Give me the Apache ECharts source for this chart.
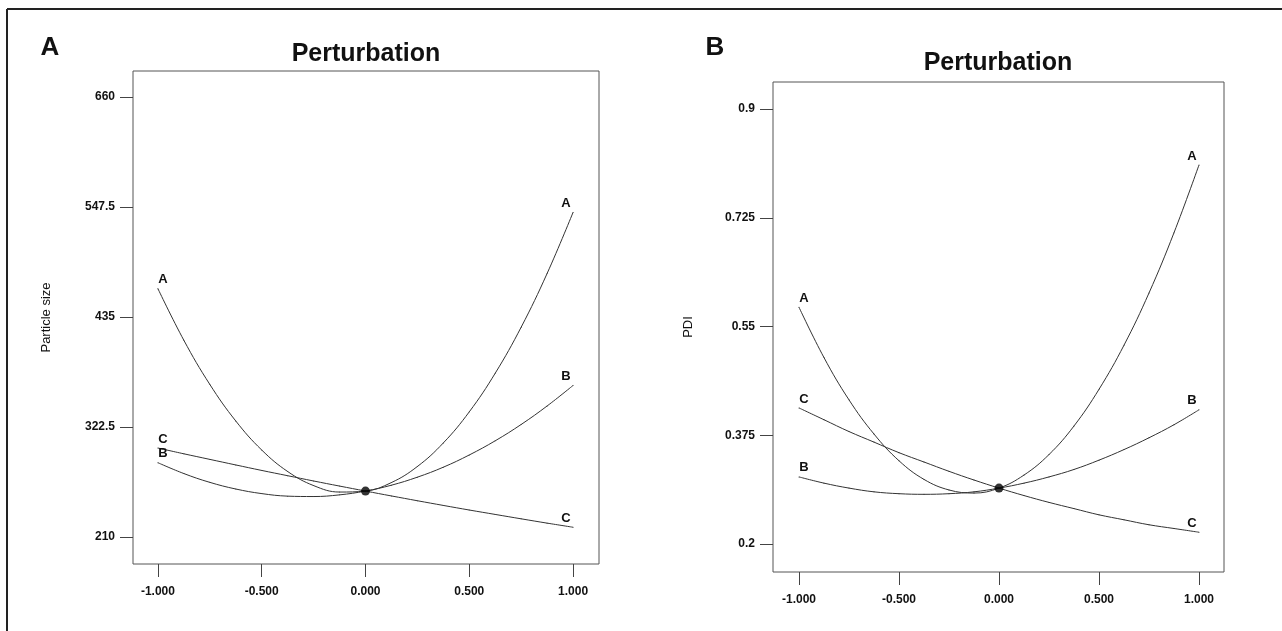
<!DOCTYPE html>
<html>
<head>
<meta charset="utf-8">
<title>Perturbation</title>
<script src="https://cdn.jsdelivr.net/npm/echarts@6/dist/echarts.min.js"></script>
<style>
  html, body { margin: 0; padding: 0; background: #fff; }
  #chart { width: 1282px; height: 631px; }
</style>
</head>
<body>
<div id="chart"></div>
<script>
// perturbation plots: particle size (A) and PDI (B)
const xPos = [-1, -0.875, -0.75, -0.625, -0.5, -0.375, -0.25, -0.125, 0,
  0.125, 0.25, 0.375, 0.5, 0.625, 0.75, 0.875, 1];
const factorNames = ['A', 'B', 'C'];

const sizeA = [464, 411.2, 366.1, 328.7, 299, 277.0, 262.6, 256.0, 257,
  265.7, 282.1, 306.2, 338, 377.5, 424.6, 479.5, 542];
const sizeB = [286, 274.9, 265.9, 259.1, 254.4, 251.8, 251.4, 253.1, 257,
  263.0, 271.2, 281.4, 293.9, 308.4, 325.1, 344.0, 365];
const sizeC = [301, 295.1, 289.4, 283.7, 278.1, 272.7, 267.3, 262.1, 257,
  252.0, 247.1, 242.3, 237.6, 233.1, 228.6, 224.2, 220];

const pdiA = [0.581, 0.500, 0.432, 0.377, 0.334, 0.304, 0.287, 0.282, 0.29,
  0.311, 0.344, 0.390, 0.449, 0.520, 0.604, 0.701, 0.810];
const pdiB = [0.308, 0.298, 0.290, 0.284, 0.281, 0.280, 0.281, 0.284, 0.29,
  0.298, 0.308, 0.320, 0.335, 0.352, 0.371, 0.392, 0.416];
const pdiC = [0.419, 0.400, 0.381, 0.364, 0.347, 0.332, 0.317, 0.303, 0.29,
  0.278, 0.267, 0.257, 0.247, 0.239, 0.231, 0.225, 0.219];

const xTicks = [-1, -0.5, 0, 0.5, 1];
const sizeTicks = [210, 322.5, 435, 547.5, 660];
const pdiTicks = [0.2, 0.375, 0.55, 0.725, 0.9];

const chart = echarts.init(document.getElementById('chart'));

const labelFont = '"Liberation Sans Narrow", "Liberation Sans", Arial, sans-serif';

function curveData(values) {
  const last = values.length - 1;
  return values.map((v, i) => {
    const item = { value: [xPos[i], v] };
    if (i === 0) {
      item.label = { show: true, offset: [5, 0] };
    } else if (i === last) {
      item.label = { show: true, offset: [-7, 0] };
    }
    return item;
  });
}

function curve(name, values, idx) {
  return {
    name: name,
    type: 'line',
    xAxisIndex: idx,
    yAxisIndex: idx,
    data: curveData(values),
    smooth: 0.4,
    symbol: 'circle',
    symbolSize: 1,
    showSymbol: true,
    lineStyle: { color: '#333', width: 1 },
    itemStyle: { color: '#333' },
    label: {
      show: false,
      position: 'top',
      distance: 2,
      formatter: name,
      color: '#111',
      fontSize: 13,
      fontWeight: 'bold',
      fontFamily: 'Liberation Sans, Arial, sans-serif'
    },
    emphasis: { disabled: true },
    z: 3
  };
}

function xAxisCfg(idx, min, max) {
  return {
    type: 'value',
    gridIndex: idx,
    position: 'bottom',
    min: min,
    max: max,
    axisLine: { show: false, onZero: false },
    splitLine: { show: false },
    axisTick: {
      show: true,
      customValues: xTicks,
      length: 13,
      lineStyle: { color: '#444' }
    },
    axisLabel: {
      customValues: xTicks,
      margin: 22,
      color: '#111',
      fontSize: 12,
      fontWeight: 'bold',
      fontFamily: labelFont,
      formatter: v => v.toFixed(3)
    }
  };
}

function yAxisCfg(idx, min, max, ticks, name, gap) {
  return {
    type: 'value',
    gridIndex: idx,
    position: 'left',
    min: min,
    max: max,
    name: name,
    nameLocation: 'middle',
    nameGap: gap,
    nameTextStyle: {
      color: '#111',
      fontSize: 13,
      fontFamily: 'Liberation Sans, Arial, sans-serif'
    },
    axisLine: { show: false, onZero: false },
    splitLine: { show: false },
    axisTick: {
      show: true,
      customValues: ticks,
      length: 13,
      lineStyle: { color: '#444' }
    },
    axisLabel: {
      customValues: ticks,
      margin: 18,
      color: '#111',
      fontSize: 12,
      fontWeight: 'bold',
      fontFamily: labelFont
    }
  };
}

const option = {
  animation: false,
  grid: [
    { left: 133, top: 71, width: 466, height: 493, show: true, borderColor: '#555', borderWidth: 1 },
    { left: 773, top: 82, width: 451, height: 490, show: true, borderColor: '#555', borderWidth: 1 }
  ],
  xAxis: [
    xAxisCfg(0, -1.12, 1.125),
    xAxisCfg(1, -1.13, 1.125)
  ],
  yAxis: [
    yAxisCfg(0, 182.4, 686.6, sizeTicks, 'Particle size', 80),
    yAxisCfg(1, 0.155, 0.9435, pdiTicks, 'PDI', 78)
  ],
  graphic: [
    { type: 'line', shape: { x1: 7, y1: 9, x2: 1282, y2: 9 }, style: { stroke: '#222', lineWidth: 2 } },
    { type: 'line', shape: { x1: 7, y1: 9, x2: 7, y2: 631 }, style: { stroke: '#222', lineWidth: 2 } },
    { type: 'text', x: 50, y: 48, style: { text: 'A', align: 'center', verticalAlign: 'middle', fill: '#111', font: 'bold 26px "Liberation Sans", Arial, sans-serif' } },
    { type: 'text', x: 715, y: 48, style: { text: 'B', align: 'center', verticalAlign: 'middle', fill: '#111', font: 'bold 26px "Liberation Sans", Arial, sans-serif' } },
    { type: 'text', x: 366, y: 54, style: { text: 'Perturbation', align: 'center', verticalAlign: 'middle', fill: '#111', font: 'bold 25px "Liberation Sans", Arial, sans-serif' } },
    { type: 'text', x: 998, y: 63, style: { text: 'Perturbation', align: 'center', verticalAlign: 'middle', fill: '#111', font: 'bold 25px "Liberation Sans", Arial, sans-serif' } }
  ],
  series: [
    curve(factorNames[0], sizeA, 0),
    curve(factorNames[1], sizeB, 0),
    curve(factorNames[2], sizeC, 0),
    curve(factorNames[0], pdiA, 1),
    curve(factorNames[1], pdiB, 1),
    curve(factorNames[2], pdiC, 1),
    {
      type: 'scatter',
      xAxisIndex: 0,
      yAxisIndex: 0,
      data: [[xPos[8], sizeA[8]]],
      symbolSize: 9,
      itemStyle: { color: '#000' },
      z: 4
    },
    {
      type: 'scatter',
      xAxisIndex: 1,
      yAxisIndex: 1,
      data: [[xPos[8], pdiA[8]]],
      symbolSize: 9,
      itemStyle: { color: '#000' },
      z: 4
    }
  ]
};

chart.setOption(option);
</script>
</body>
</html>
